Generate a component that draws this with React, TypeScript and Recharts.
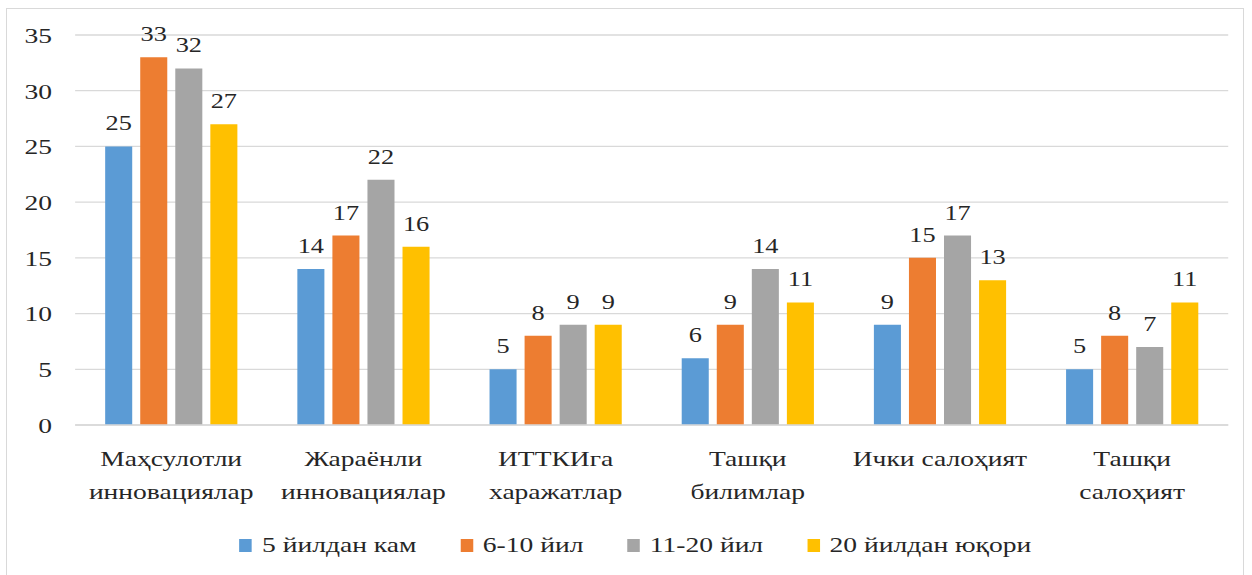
import { BarChart, Bar, XAxis, YAxis, CartesianGrid, Legend, LabelList } from 'recharts';

const categories = [
  'Маҳсулотли\nинновациялар',
  'Жараёнли\nинновациялар',
  'ИТТКИга\nхаражатлар',
  'Ташқи\nбилимлар',
  'Ички салоҳият',
  'Ташқи\nсалоҳият',
];
const lessThan5 = [25, 14, 5, 6, 9, 5];
const years6to10 = [33, 17, 8, 9, 15, 8];
const years11to20 = [32, 22, 9, 14, 17, 7];
const over20 = [27, 16, 9, 11, 13, 11];
const yTicks = [0, 5, 10, 15, 20, 25, 30, 35];

const SERIES = [
  { key: 's1', name: '5 йилдан кам', color: '#5B9BD5' },
  { key: 's2', name: '6-10 йил', color: '#ED7D31' },
  { key: 's3', name: '11-20 йил', color: '#A5A5A5' },
  { key: 's4', name: '20 йилдан юқори', color: '#FFC000' },
];

const FONT = 'Liberation Serif, Times New Roman, DejaVu Serif, serif';
const TEXT = '#262626';
// source picture is stretched horizontally, so the chart is drawn narrow and scaled
const SX = 1.252;
const W = 1000;

const data = categories.map((c, i) => ({
  name: c,
  s1: lessThan5[i],
  s2: years6to10[i],
  s3: years11to20[i],
  s4: over20[i],
}));

function CategoryTick({ x, y, payload }: any) {
  const lines = String(payload.value).split('\n');
  return (
    <text x={x} y={y} textAnchor="middle" fill={TEXT} fontFamily={FONT} fontSize={22}>
      {lines.map((l, i) => (
        <tspan key={i} x={x} y={y + 33 + i * 33}>{l}</tspan>
      ))}
    </text>
  );
}

function LegendContent() {
  return (
    <div style={{
      height: 40, display: 'flex', alignItems: 'center', justifyContent: 'center',
      paddingLeft: 15, boxSizing: 'border-box', gap: 35, fontFamily: FONT, fontSize: 22, color: TEXT,
    }}>
      {SERIES.map(s => (
        <div key={s.key} style={{ display: 'flex', alignItems: 'center' }}>
          <span style={{ width: 10, height: 13, background: s.color, marginRight: 8, display: 'inline-block' }} />
          <span>{s.name}</span>
        </div>
      ))}
    </div>
  );
}

export default function App() {
  return (
    <div style={{ position: 'absolute', left: 0, top: 0, width: 1252, height: 575, background: '#fff', overflow: 'hidden', fontFamily: FONT }}>
      <div style={{
        position: 'absolute', left: 6, top: 8, width: 1238, height: 600,
        border: '1px solid #d9d9d9', boxSizing: 'border-box',
      }} />
      <div style={{ position: 'absolute', left: 0, top: 0, width: W, height: 575, transform: `scaleX(${SX})`, transformOrigin: '0 0' }}>
        <BarChart
          width={W}
          height={575}
          data={data}
          margin={{ top: 35, right: 19, bottom: 10, left: 0 }}
          barSize={21.6}
          barGap={6.4}
          style={{ fontFamily: FONT }}
        >
          <CartesianGrid vertical={false} stroke="#d9d9d9" strokeWidth={1.3} />
          <XAxis
            dataKey="name"
            height={100}
            interval={0}
            tickLine={false}
            axisLine={{ stroke: '#d9d9d9', strokeWidth: 1.3 }}
            tick={<CategoryTick />}
          />
          <YAxis
            width={60}
            domain={[0, 35]}
            ticks={yTicks}
            axisLine={false}
            tickLine={false}
            tickMargin={12.5}
            tick={{ fontSize: 22, fill: TEXT, fontFamily: FONT }}
          />
          <Legend verticalAlign="bottom" content={<LegendContent />} wrapperStyle={{ left: 0, width: W }} />
          {SERIES.map(s => (
            <Bar key={s.key} dataKey={s.key} name={s.name} fill={s.color} isAnimationActive={false}>
              <LabelList dataKey={s.key} position="top" offset={16} fill={TEXT} fontFamily={FONT} fontSize={21} />
            </Bar>
          ))}
        </BarChart>
      </div>
    </div>
  );
}
